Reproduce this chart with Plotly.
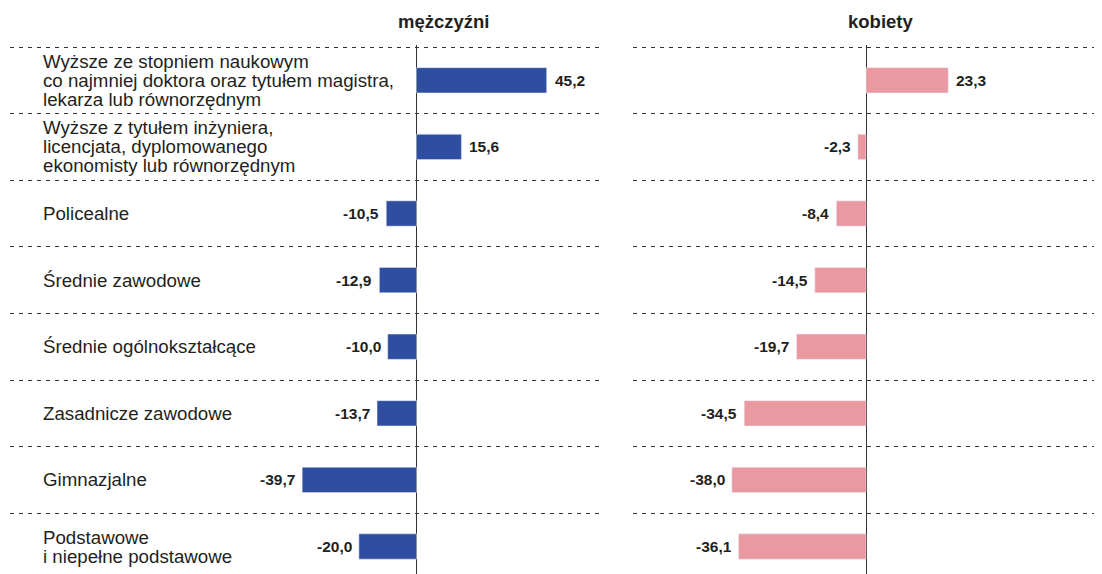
import plotly.graph_objects as go

categories = [
    "Wyższe ze stopniem naukowym<br>co najmniej doktora oraz tytułem magistra,<br>lekarza lub równorzędnym",
    "Wyższe z tytułem inżyniera,<br>licencjata, dyplomowanego<br>ekonomisty lub równorzędnym",
    "Policealne",
    "Średnie zawodowe",
    "Średnie ogólnokształcące",
    "Zasadnicze zawodowe",
    "Gimnazjalne",
    "Podstawowe<br>i niepełne podstawowe",
]
men = [45.2, 15.6, -10.5, -12.9, -10.0, -13.7, -39.7, -20.0]
women = [23.3, -2.3, -8.4, -14.5, -19.7, -34.5, -38.0, -36.1]
panel_titles = ["mężczyźni", "kobiety"]

# page has an 8px body margin; compensate so the figure fills the 1102x574 window
OFF = 8
PAGE_W, PAGE_H = 1102, 574
W, H = PAGE_W - OFF, PAGE_H - OFF

def px(xpage):
    return (xpage - OFF) / W

def py(ypage):
    return 1 - (ypage - OFF) / H

BLUE = "#304ea0"
PINK = "#eb99a0"
INK = "#231f20"
FONT = "Liberation Sans, Arial, sans-serif"

def fmt(v):
    return f"{v:.1f}".replace(".", ",")

fig = go.Figure()
fig.add_trace(go.Bar(x=men, y=categories, orientation="h", marker_color=BLUE,
                     width=0.38, xaxis="x", yaxis="y", hoverinfo="x+y"))
fig.add_trace(go.Bar(x=women, y=categories, orientation="h", marker_color=PINK,
                     width=0.38, xaxis="x2", yaxis="y2", hoverinfo="x+y"))

annotations = []
line_h = 19
for cat in categories:
    lines = cat.split("<br>")
    n = len(lines)
    for k, ln in enumerate(lines):
        annotations.append(dict(
            text=ln, xref="paper", x=px(41), yref="y", y=cat,
            xanchor="left", yanchor="middle", showarrow=False,
            yshift=((n - 1) / 2 - k) * line_h,
            font=dict(family=FONT, size=18.7, color=INK)))

for series, xr, yr in [(men, "x", "y"), (women, "x2", "y2")]:
    for cat, v in zip(categories, series):
        annotations.append(dict(
            text=f"<b>{fmt(v)}</b>", xref=xr, x=v, yref=yr, y=cat,
            xanchor="left" if v >= 0 else "right", yanchor="middle",
            xshift=6 if v >= 0 else -5, showarrow=False,
            font=dict(family=FONT, size=15.5, color=INK)))

for t, cx in zip(panel_titles, [444, 880]):
    annotations.append(dict(
        text=f"<b>{t}</b>", xref="paper", x=px(cx), yref="paper", y=py(21),
        xanchor="center", yanchor="middle", showarrow=False,
        font=dict(family=FONT, size=18.5, color=INK)))

# axis geometry (page pixel positions)
zero1, ppu1 = 416.5, 2.88
zero2, ppu2 = 866, 3.53
x1_dom = [px(10), px(603)]
x2_dom = [px(633), px(1100)]
x1_range = [(10 - zero1) / ppu1, (603 - zero1) / ppu1]
x2_range = [(633 - zero2) / ppu2, (1100 - zero2) / ppu2]

row_h = 66.6
top_edge = -0.53
top_px = 47 + (top_edge + 0.5) * row_h
y_dom = [0, py(top_px)]
span = (PAGE_H - top_px) / row_h
y_range = [top_edge + span, top_edge]

xcommon = dict(showgrid=False, showticklabels=False, ticks="", zeroline=True,
               zerolinecolor="#333333", zerolinewidth=1.3, showline=False, fixedrange=True)
ycommon = dict(type="category", categoryorder="array", categoryarray=categories,
               range=y_range, domain=y_dom, showticklabels=False, ticks="",
               tickson="boundaries", showgrid=True, gridcolor="#333333", gridwidth=1,
               griddash="4px,5px", zeroline=False, showline=False, fixedrange=True)

fig.update_layout(
    width=W, height=H,
    margin=dict(l=0, r=0, t=0, b=0),
    paper_bgcolor="white", plot_bgcolor="white",
    showlegend=False,
    xaxis=dict(domain=x1_dom, range=x1_range, anchor="y", **xcommon),
    xaxis2=dict(domain=x2_dom, range=x2_range, anchor="y2", **xcommon),
    yaxis=dict(anchor="x", **ycommon),
    yaxis2=dict(anchor="x2", matches="y", **ycommon),
    annotations=annotations,
    font=dict(family=FONT, color=INK),
)

fig.write_html("out.html", config={"displayModeBar": False})
